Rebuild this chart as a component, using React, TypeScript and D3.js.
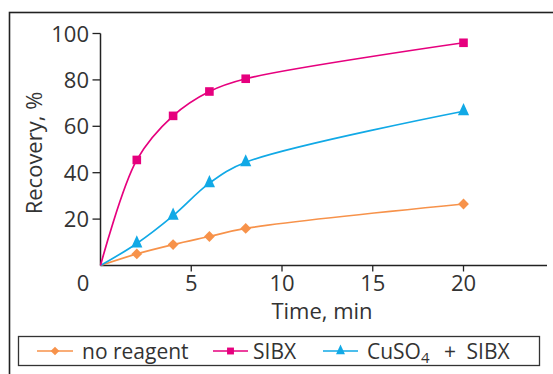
import React from "react";
import * as d3 from "d3";

const times = [0, 2, 4, 6, 8, 20];
const noReagent = [0, 5, 9, 12.5, 16, 26.5];
const sibx = [0, 45.5, 64.5, 75, 80.5, 96];
const cuso4 = [0, 9.5, 21.5, 35.5, 44.5, 66.5];
const xTicks = [5, 10, 15, 20];
const yTicks = [20, 40, 60, 80, 100];

const W = 553;
const H = 374;
const FONT = "'Open Sans', 'Noto Sans', sans-serif";
const TXT = "#333";

const ORANGE = "#f7924a";
const PINK = "#e6007e";
const CYAN = "#11a9e6";

export default function App() {
  const x = d3.scaleLinear().domain([0, 24.6]).range([100.5, 547]);
  const y = d3.scaleLinear().domain([0, 100]).range([265.5, 33.5]);
  const line = d3
    .line<[number, number]>()
    .x((d) => x(d[0]))
    .y((d) => y(d[1]))
    .curve(d3.curveCatmullRom.alpha(0.5));

  const pts = (vals: number[]) => times.map((t, i) => [t, vals[i]] as [number, number]);

  const diamond = (cx: number, cy: number, r: number) =>
    `M${cx},${cy - r}L${cx + r},${cy}L${cx},${cy + r}L${cx - r},${cy}Z`;
  const tri = (cx: number, cy: number, s: number) =>
    `M${cx},${cy - s * 0.9}L${cx + s * 0.62},${cy + s * 0.45}L${cx - s * 0.62},${cy + s * 0.45}Z`;

  const series = [
    { vals: noReagent, color: ORANGE, kind: "diamond" },
    { vals: cuso4, color: CYAN, kind: "tri" },
    { vals: sibx, color: PINK, kind: "square" },
  ];

  const marker = (kind: string, cx: number, cy: number, color: string, scale = 1, key?: any) => {
    if (kind === "diamond")
      return <path key={key} d={diamond(cx, cy, 5.4 * scale)} fill={color} />;
    if (kind === "square")
      return (
        <rect key={key} x={cx - 4.3 * scale} y={cy - 4.3 * scale} width={8.6 * scale} height={8.6 * scale} fill={color} />
      );
    return <path key={key} d={tri(cx, cy, 9 * scale)} fill={color} />;
  };

  const legendY = 351;
  const legendItems = [
    { label: "no reagent", color: ORANGE, kind: "diamond", x0: 37, x1: 73, tx: 82 },
    { label: "SIBX", color: PINK, kind: "square", x0: 213, x1: 248, tx: 253 },
    { label: "CuSO4", color: CYAN, kind: "tri", x0: 323, x1: 358, tx: 367 },
  ];

  return (
    <svg width={W} height={H} style={{ position: "absolute", left: 0, top: 0, background: "#fff" }}>
      <rect x={0} y={0} width={W} height={H} fill="#fff" />
      <rect x={9.5} y={12.5} width={W + 20} height={H + 20} fill="none" stroke="#222" strokeWidth={1.6} />

      <line x1={x(0)} x2={x(24.6)} y1={y(0)} y2={y(0)} stroke="#222" strokeWidth={1.5} />
      <line x1={x(0)} x2={x(0)} y1={y(0)} y2={y(100)} stroke="#222" strokeWidth={1.5} />
      {yTicks.map((t) => (
        <g key={"y" + t}>
          <line x1={x(0) - 8} x2={x(0)} y1={y(t)} y2={y(t)} stroke="#222" strokeWidth={1.3} />
          <text x={89} y={y(t) + 8} textAnchor="end" fontFamily={FONT} fontSize={22} fill={TXT}>
            {t}
          </text>
        </g>
      ))}
      {xTicks.map((t) => (
        <g key={"x" + t}>
          <line x1={x(t)} x2={x(t)} y1={y(0)} y2={y(0) + 6} stroke="#222" strokeWidth={1.3} />
          <text x={x(t)} y={290.5} textAnchor="middle" fontFamily={FONT} fontSize={22} fill={TXT}>
            {t}
          </text>
        </g>
      ))}
      <text x={83} y={290.5} textAnchor="middle" fontFamily={FONT} fontSize={22} fill={TXT}>
        0
      </text>
      <text x={322} y={319} textAnchor="middle" fontFamily={FONT} fontSize={22} fill={TXT}>
        Time, min
      </text>
      <text
        transform={`translate(42,153) rotate(-90)`}
        textAnchor="middle"
        fontFamily={FONT}
        fontSize={22}
        fill={TXT}
      >
        Recovery, %
      </text>

      {series.map((s, si) => (
        <g key={si}>
          <path d={line(pts(s.vals)) || ""} fill="none" stroke={s.color} strokeWidth={1.7} />
          {times.slice(1).map((t, i) => marker(s.kind, x(t), y(s.vals[i + 1]), s.color, 1, i))}
        </g>
      ))}

      <rect x={18.5} y={336.5} width={521} height={29} fill="#fff" stroke="#333" strokeWidth={1.3} />
      {legendItems.map((it, i) => (
        <g key={i}>
          <line x1={it.x0} x2={it.x1} y1={legendY} y2={legendY} stroke={it.color} strokeWidth={1.7} />
          {marker(it.kind, (it.x0 + it.x1) / 2, legendY, it.color, 0.8)}
          {it.label === "CuSO4" ? (
            <g fontFamily={FONT} fontSize={21} fill={TXT}>
              <text x={it.tx} y={legendY + 8}>
                CuSO
                <tspan fontSize={15} dy={4}>
                  4
                </tspan>
              </text>
              <text x={450} y={legendY + 8} textAnchor="middle">+</text>
              <text x={466.5} y={legendY + 8}>SIBX</text>
            </g>
          ) : (
            <text x={it.tx} y={legendY + 8} fontFamily={FONT} fontSize={21} fill={TXT}>
              {it.label}
            </text>
          )}
        </g>
      ))}
    </svg>
  );
}
